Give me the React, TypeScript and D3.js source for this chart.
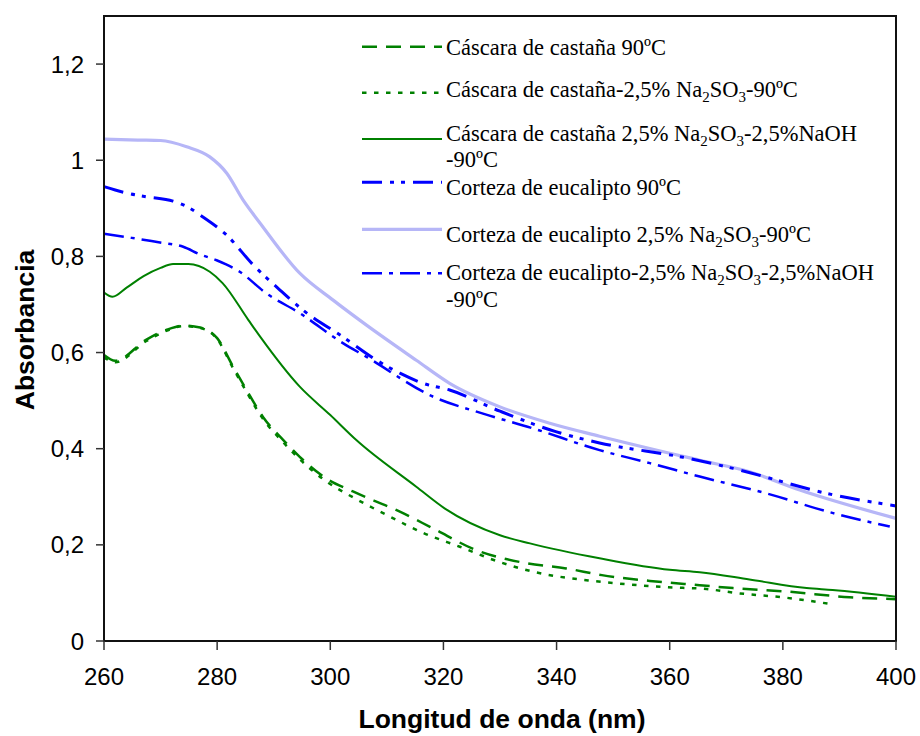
import React from "react";
import * as d3 from "d3";

const W = 920;
const H = 736;

const xTicks = [260, 280, 300, 320, 340, 360, 380, 400];
const yTicks = [0, 0.2, 0.4, 0.6, 0.8, 1.0, 1.2];
const yTickLabels = ["0", "0,2", "0,4", "0,6", "0,8", "1", "1,2"];

// Cáscara de castaña 90ºC
const s1x = [260, 262, 267.5, 271, 274, 277, 280, 282.8, 285.2, 288.1, 291.7, 294.6, 299.3, 304, 312.3, 318.2, 325.8, 334.1, 341.7, 348, 356.5, 365.3, 371.2, 380.6, 391.8, 400];
const s1y = [0.595, 0.583, 0.627, 0.647, 0.656, 0.652, 0.63, 0.571, 0.522, 0.466, 0.418, 0.383, 0.338, 0.311, 0.269, 0.234, 0.189, 0.163, 0.151, 0.137, 0.125, 0.116, 0.11, 0.103, 0.091, 0.087];

// Cáscara de castaña-2,5% Na2SO3-90ºC
const s2x = [260, 262, 267.5, 271, 274, 277, 280, 282.8, 285.2, 288.1, 291.7, 294.6, 299.3, 304, 310.5, 316.4, 322.9, 330, 335.9, 346.4, 350.6, 359.4, 366.5, 372.4, 380.6, 388.9];
const s2y = [0.59, 0.58, 0.624, 0.645, 0.655, 0.651, 0.628, 0.568, 0.518, 0.462, 0.413, 0.378, 0.332, 0.299, 0.259, 0.225, 0.196, 0.164, 0.144, 0.125, 0.12, 0.112, 0.108, 0.099, 0.09, 0.076];

// Cáscara de castaña 2,5% Na2SO3-2,5%NaOH-90ºC
const s3x = [260, 261.5, 264, 267, 270, 272.2, 274.9, 278.7, 281, 285.5, 287.6, 294.6, 300, 304.6, 315.2, 320.2, 330, 335.3, 347.6, 360, 365.3, 374.1, 384.2, 388.8, 400];
const s3y = [0.725, 0.716, 0.735, 0.759, 0.776, 0.784, 0.784, 0.768, 0.744, 0.668, 0.633, 0.529, 0.47, 0.418, 0.321, 0.276, 0.22, 0.203, 0.172, 0.148, 0.143, 0.128, 0.11, 0.106, 0.092];

// Corteza de eucalipto 90ºC
const s4x = [260, 264.6, 267.5, 272.2, 275.2, 277, 281.7, 286.4, 291.1, 295.2, 302.3, 308.2, 312.3, 316.4, 321.1, 330, 340, 347.6, 362.4, 371.2, 388.9, 400];
const s4y = [0.945, 0.93, 0.924, 0.915, 0.9, 0.886, 0.844, 0.782, 0.73, 0.688, 0.632, 0.584, 0.557, 0.536, 0.522, 0.478, 0.435, 0.412, 0.382, 0.359, 0.304, 0.281];

// Corteza de eucalipto 2,5% Na2SO3-90ºC
const s5x = [260, 266, 270, 274.6, 278.7, 281.7, 284.6, 287.6, 294.6, 300.5, 306.4, 315.2, 321.1, 330, 338.8, 347.6, 365.3, 374.1, 383, 400];
const s5y = [1.044, 1.042, 1.041, 1.028, 1.007, 0.973, 0.917, 0.869, 0.765, 0.709, 0.657, 0.584, 0.536, 0.487, 0.453, 0.426, 0.376, 0.352, 0.314, 0.255];

// Corteza de eucalipto-2,5% Na2SO3-2,5%NaOH-90ºC
const s6x = [260, 264.6, 269.9, 274, 277, 279.9, 284, 288.7, 294.6, 302.3, 306.4, 318.2, 327, 335.9, 347.6, 356.5, 365.3, 377.1, 388.9, 398.9];
const s6y = [0.847, 0.839, 0.829, 0.82, 0.804, 0.792, 0.768, 0.723, 0.682, 0.619, 0.591, 0.508, 0.473, 0.442, 0.397, 0.37, 0.342, 0.307, 0.266, 0.238];

const GREEN = "#008000";
const BLUE = "#0000FF";
const LAV = "#B6B6F7";

type Style = { color: string; width: number; dash?: string };

const series: { xs: number[]; ys: number[]; style: Style }[] = [
  { xs: s5x, ys: s5y, style: { color: LAV, width: 3.2 } },
  { xs: s1x, ys: s1y, style: { color: GREEN, width: 2.5, dash: "15,9" } },
  { xs: s2x, ys: s2y, style: { color: GREEN, width: 2.5, dash: "4.5,7.5" } },
  { xs: s3x, ys: s3y, style: { color: GREEN, width: 2 } },
  { xs: s4x, ys: s4y, style: { color: BLUE, width: 3, dash: "20,8,4,7,4,8" } },
  { xs: s6x, ys: s6y, style: { color: BLUE, width: 2.5, dash: "20,7,4,7" } },
];

const x = d3.scaleLinear().domain([260, 400]).range([104, 896]);
const y = d3.scaleLinear().domain([0, 1.3]).range([641, 16]);

const line = d3
  .line<[number, number]>()
  .x((d) => x(d[0]))
  .y((d) => y(d[1]))
  .curve(d3.curveMonotoneX);

const serif = "'Liberation Serif', 'Times New Roman', Times, serif";
const sans = "'Liberation Sans', Arial, Helvetica, sans-serif";

const Sub = ({ t }: { t: string }) => (
  <tspan fontSize={15} dy={5}>
    {t}
  </tspan>
);

type LegendItem = {
  style: Style;
  markerY: number;
  baseY: number;
  content: React.ReactNode;
  second?: string;
};

const legendItems: LegendItem[] = [
  {
    style: { color: GREEN, width: 2.5, dash: "15,9" },
    markerY: 46.7,
    baseY: 55,
    content: <>Cáscara de castaña 90ºC</>,
  },
  {
    style: { color: GREEN, width: 2.5, dash: "4.5,7.5" },
    markerY: 92.7,
    baseY: 97.3,
    content: (
      <>
        Cáscara de castaña-2,5% Na<Sub t="2" />
        <tspan dy={-5}>S</tspan>O<Sub t="3" />
        <tspan dy={-5}>-90ºC</tspan>
      </>
    ),
  },
  {
    style: { color: GREEN, width: 2 },
    markerY: 139,
    baseY: 140.7,
    content: (
      <>
        Cáscara de castaña 2,5% Na<Sub t="2" />
        <tspan dy={-5}>S</tspan>O<Sub t="3" />
        <tspan dy={-5}>-2,5%NaOH</tspan>
      </>
    ),
    second: "-90ºC",
  },
  {
    style: { color: BLUE, width: 3, dash: "20,8,4,7,4,8" },
    markerY: 182.3,
    baseY: 195,
    content: <>Corteza de eucalipto 90ºC</>,
  },
  {
    style: { color: LAV, width: 3.2 },
    markerY: 229.3,
    baseY: 241.7,
    content: (
      <>
        Corteza de eucalipto 2,5% Na<Sub t="2" />
        <tspan dy={-5}>S</tspan>O<Sub t="3" />
        <tspan dy={-5}>-90ºC</tspan>
      </>
    ),
  },
  {
    style: { color: BLUE, width: 2.5, dash: "20,7,4,7" },
    markerY: 273.3,
    baseY: 280,
    content: (
      <>
        Corteza de eucalipto-2,5% Na<Sub t="2" />
        <tspan dy={-5}>S</tspan>O<Sub t="3" />
        <tspan dy={-5}>-2,5%NaOH</tspan>
      </>
    ),
    second: "-90ºC",
  },
];

export default function App() {
  return (
    <svg width={W} height={H} style={{ position: "absolute", left: 0, top: 0, background: "#fff" }}>
      <rect x={0} y={0} width={W} height={H} fill="#fff" />
      {/* series */}
      {series.map((s, i) => (
        <path
          key={i}
          d={line(s.xs.map((v, j) => [v, s.ys[j]] as [number, number])) || ""}
          fill="none"
          stroke={s.style.color}
          strokeWidth={s.style.width}
          strokeDasharray={s.style.dash}
        />
      ))}
      {/* frame */}
      <rect x={x(260)} y={y(1.3)} width={x(400) - x(260)} height={y(0) - y(1.3)} fill="none" stroke="#111" strokeWidth={2} />
      {/* y ticks */}
      {yTicks.map((t, i) => (
        <g key={"y" + i}>
          <line x1={96} x2={104} y1={y(t)} y2={y(t)} stroke="#333" strokeWidth={1.5} />
          <text x={84} y={y(t) + 8.5} textAnchor="end" fontFamily={sans} fontSize={24} fill="#000">
            {yTickLabels[i]}
          </text>
        </g>
      ))}
      {/* x ticks */}
      {xTicks.map((t, i) => (
        <g key={"x" + i}>
          <line x1={x(t)} x2={x(t)} y1={641} y2={650} stroke="#333" strokeWidth={1.5} />
          <text x={x(t)} y={685} textAnchor="middle" fontFamily={sans} fontSize={24} fill="#000">
            {t}
          </text>
        </g>
      ))}
      <text x={502} y={728} textAnchor="middle" fontFamily={sans} fontWeight="bold" fontSize={26.5} fill="#000">
        Longitud de onda (nm)
      </text>
      <text
        transform={`translate(34, 330) rotate(-90)`}
        textAnchor="middle"
        fontFamily={sans}
        fontWeight="bold"
        fontSize={26.5}
        fill="#000"
      >
        Absorbancia
      </text>
      {/* legend */}
      {legendItems.map((it, i) => (
        <g key={"l" + i}>
          <line
            x1={362}
            x2={442}
            y1={it.markerY}
            y2={it.markerY}
            stroke={it.style.color}
            strokeWidth={it.style.width}
            strokeDasharray={it.style.dash}
          />
          <text x={446} y={it.baseY} fontFamily={serif} fontSize={22.5} fill="#000">
            {it.content}
          </text>
          {it.second && (
            <text x={446} y={it.baseY + 26.5} fontFamily={serif} fontSize={22.5} fill="#000">
              {it.second}
            </text>
          )}
        </g>
      ))}
    </svg>
  );
}
